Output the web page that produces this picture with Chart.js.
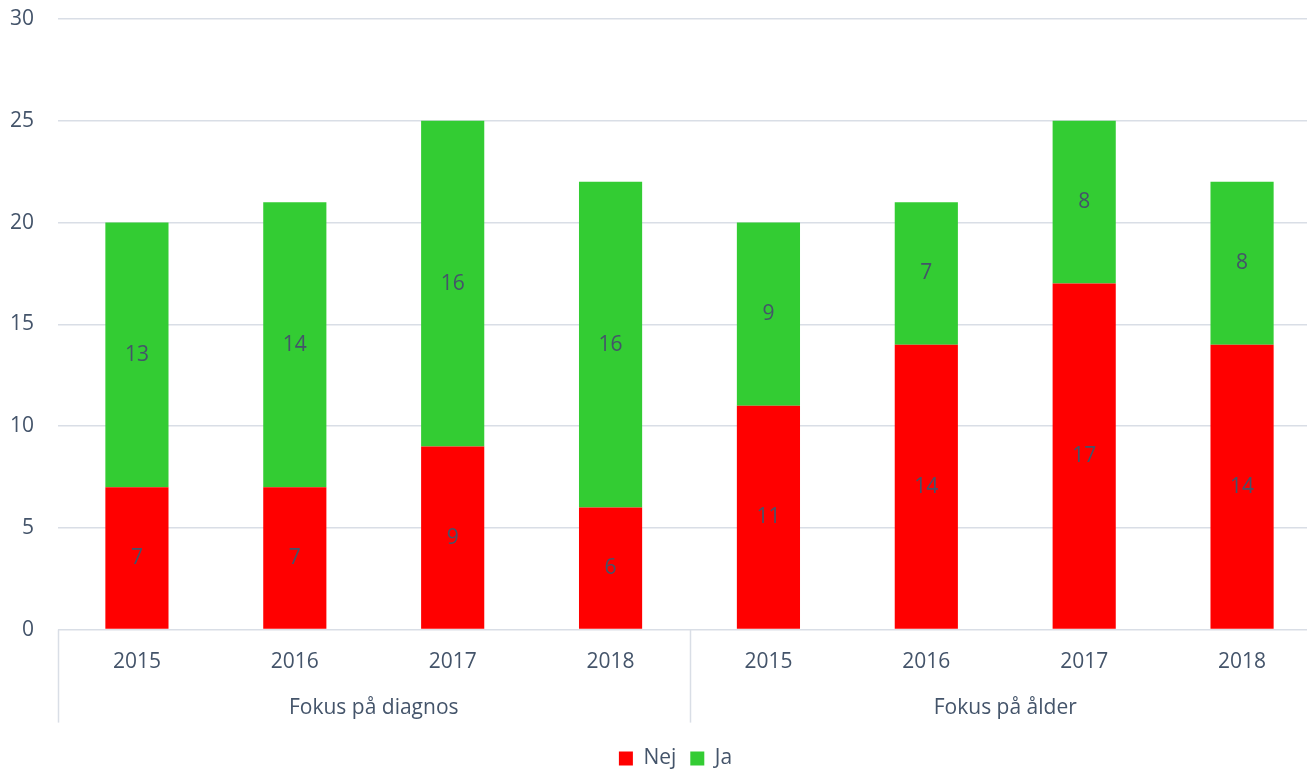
<!DOCTYPE html>
<html>
<head>
<meta charset="utf-8">
<script src="https://cdn.jsdelivr.net/npm/chart.js@4.4.1/dist/chart.umd.min.js"></script>
<style>
  html, body { margin: 0; padding: 0; background: #fff; overflow: hidden; }
  #wrap { position: absolute; left: 0; top: 0; width: 1352px; height: 779px; }
</style>
</head>
<body>
<div id="wrap"><canvas id="chart"></canvas></div>
<script>
// Kategorier och värden
const years = ["2015", "2016", "2017", "2018", "2015", "2016", "2017", "2018"];
const groups = ["Fokus på diagnos", "Fokus på ålder"];
const nej = [7, 7, 9, 6, 11, 14, 17, 14];
const ja = [13, 14, 16, 16, 9, 7, 8, 8];
const yTicks = [0, 5, 10, 15, 20, 25, 30];

const textColor = "#44546a";
const gridColor = "#d9dee6";
const font = { family: "'Open Sans', sans-serif", size: 21 };

// Etiketter mitt i varje stapeldel
const valueLabels = {
  id: "valueLabels",
  afterDatasetsDraw(chart) {
    const ctx = chart.ctx;
    ctx.save();
    ctx.font = "21px 'Open Sans', sans-serif";
    ctx.fillStyle = textColor;
    ctx.textAlign = "center";
    ctx.textBaseline = "middle";
    chart.data.datasets.forEach((ds, i) => {
      chart.getDatasetMeta(i).data.forEach((bar, j) => {
        ctx.fillText(ds.data[j], bar.x, (bar.y + bar.base) / 2);
      });
    });
    ctx.restore();
  },
};

// Avdelare mellan grupperna under x-axeln, och legenden lite åt höger
const groupLines = {
  id: "groupLines",
  afterLayout(chart) {
    chart.legend.left += 15;
    chart.legend.right += 15;
  },
  afterDraw(chart) {
    const x = chart.scales.x;
    const area = chart.chartArea;
    const bottom = area.bottom + 93;
    const ctx = chart.ctx;
    const step = (x.getPixelForTick(1) - x.getPixelForTick(0));
    ctx.save();
    ctx.strokeStyle = gridColor;
    ctx.lineWidth = 1.5;
    [0, 4, 8].forEach((i) => {
      const px = Math.round(x.getPixelForTick(0) - step / 2 + i * step) + 0.5;
      ctx.beginPath();
      ctx.moveTo(px, area.bottom);
      ctx.lineTo(px, bottom);
      ctx.stroke();
    });
    ctx.restore();
  },
};

new Chart(document.getElementById("chart"), {
  type: "bar",
  data: {
    labels: years,
    datasets: [
      { label: "Nej", data: nej, backgroundColor: "#ff0000", barPercentage: 0.8, categoryPercentage: 0.5 },
      { label: "Ja", data: ja, backgroundColor: "#33cc33", barPercentage: 0.8, categoryPercentage: 0.5 },
    ],
  },
  options: {
    responsive: true,
    maintainAspectRatio: false,
    animation: false,
    layout: { padding: { left: 0, right: 31, top: 19, bottom: 0 } },
    plugins: {
      legend: {
        position: "bottom",
        labels: { color: textColor, font: font, boxWidth: 14, boxHeight: 14, padding: 14 },
      },
      tooltip: { enabled: false },
    },
    scales: {
      x: {
        stacked: true,
        weight: 1,
        grid: { display: false },
        border: { display: false },
        ticks: { color: textColor, font: font, maxRotation: 0, autoSkip: false, padding: 12 },
      },
      x2: {
        type: "category",
        labels: groups,
        position: "bottom",
        weight: 2,
        afterFit: (scale) => { scale.height += 12; },
        grid: { display: false },
        border: { display: false },
        ticks: { color: textColor, font: font, maxRotation: 0, padding: 1 },
      },
      y: {
        stacked: true,
        min: 0,
        max: 30,
        afterBuildTicks: (scale) => { scale.ticks = yTicks.map((v) => ({ value: v })); },
        afterFit: (scale) => { scale.width = 58; scale.paddingTop = 0; },
        grid: { color: gridColor, lineWidth: 1.5, drawTicks: false },
        border: { display: false },
        ticks: { color: textColor, font: font, padding: 24 },
      },
    },
  },
  plugins: [valueLabels, groupLines],
});
</script>
</body>
</html>
